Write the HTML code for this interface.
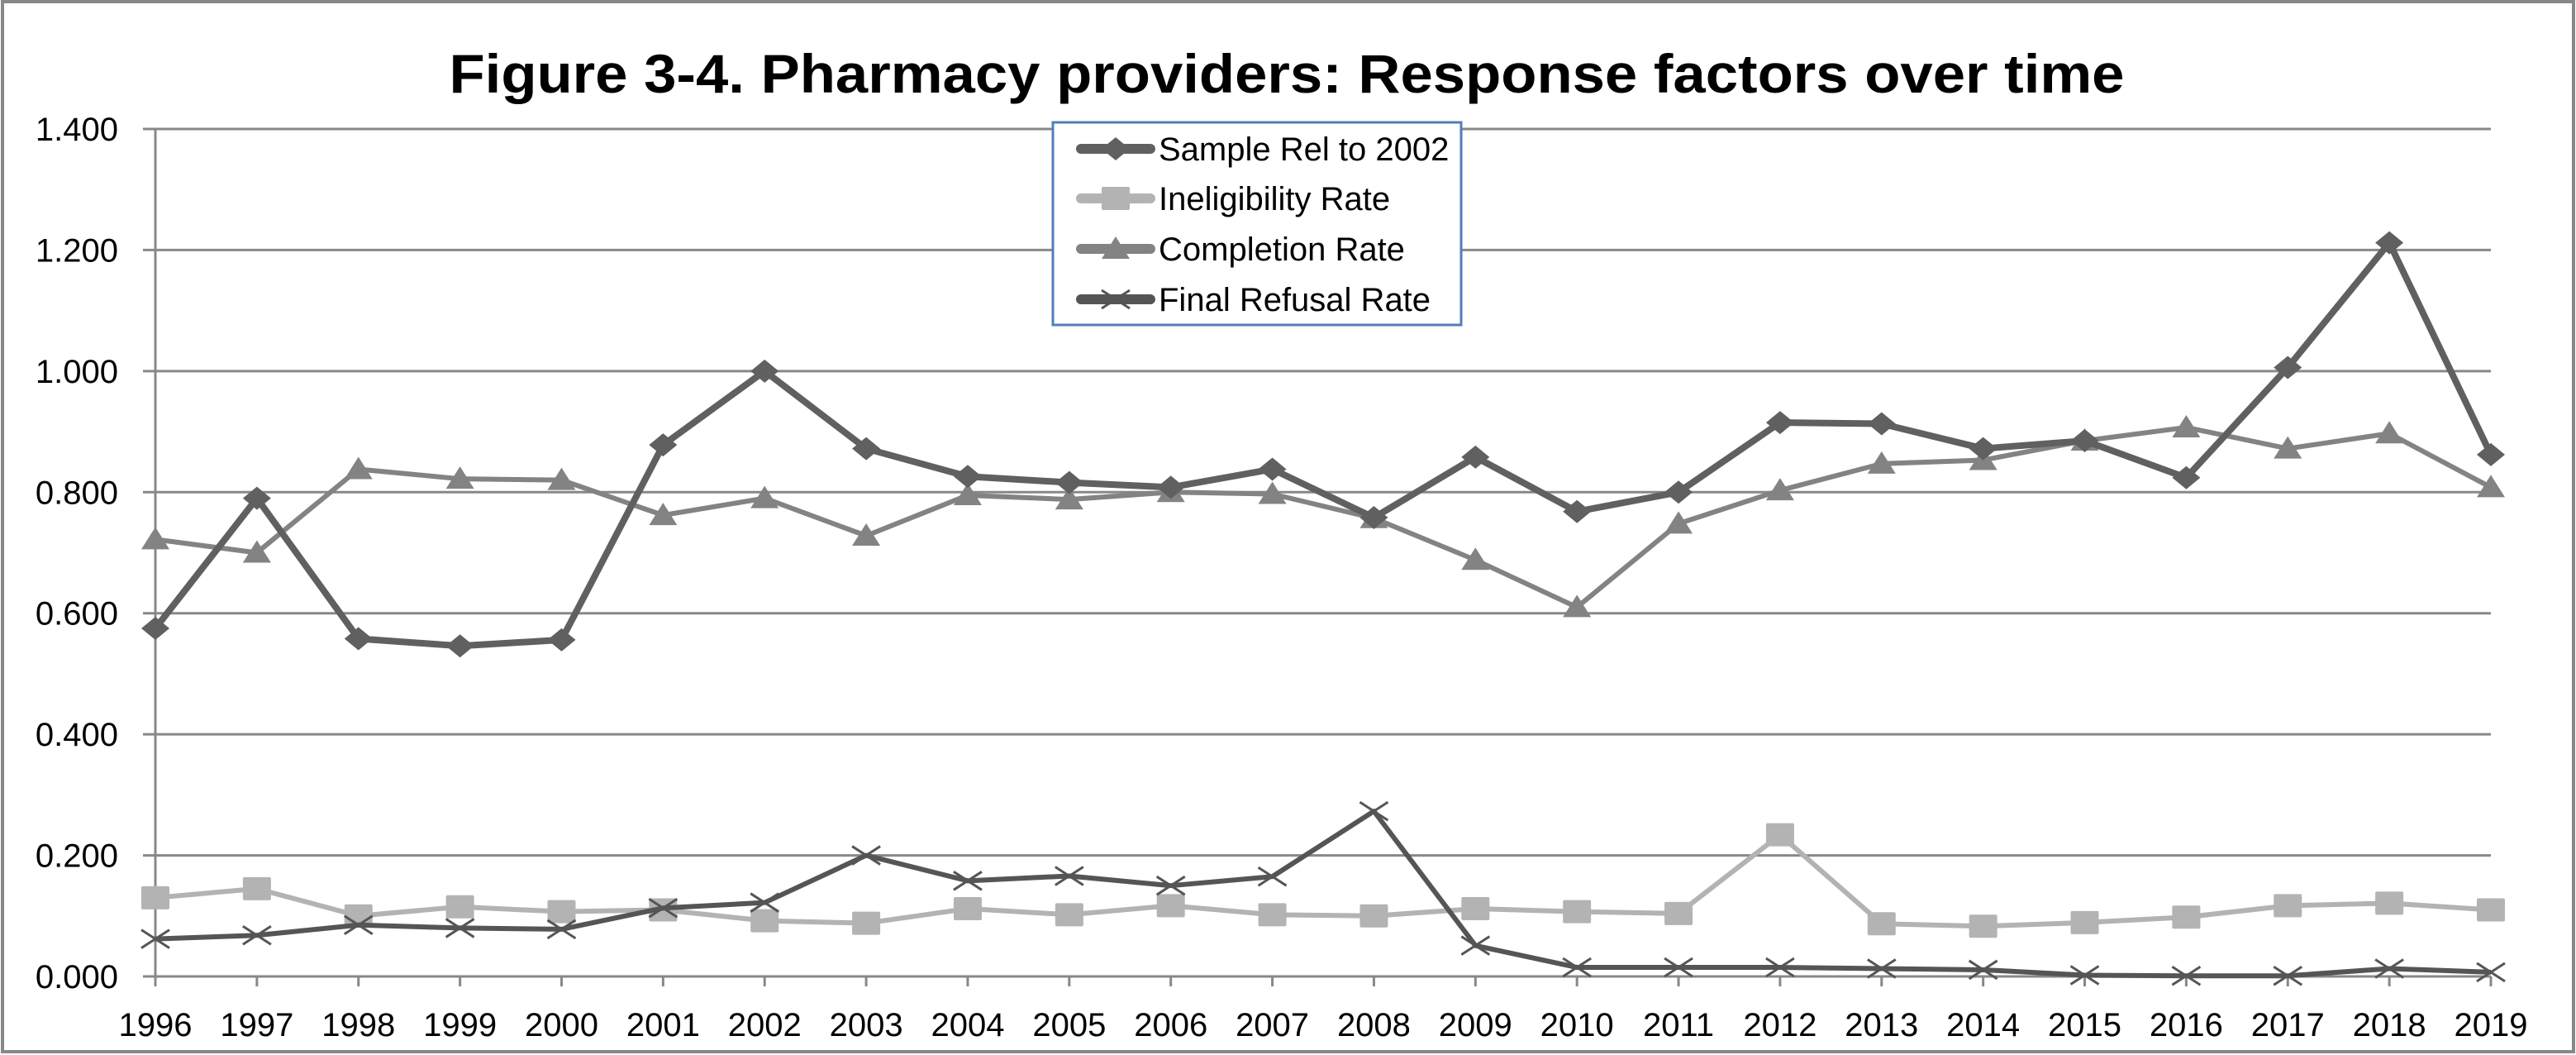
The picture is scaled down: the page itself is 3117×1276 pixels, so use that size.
<!DOCTYPE html>
<html><head><meta charset="utf-8"><style>
html,body{margin:0;padding:0;background:#fff}
svg{display:block;font-family:"Liberation Sans",sans-serif}
</style></head><body>
<svg width="3117" height="1276" viewBox="0 0 3117 1276" xmlns="http://www.w3.org/2000/svg">
<rect x="3" y="2" width="3111" height="1270" fill="#fff" stroke="#888" stroke-width="4"/>
<text x="1557" y="112" text-anchor="middle" font-size="66" font-weight="bold" textLength="2027" lengthAdjust="spacingAndGlyphs" fill="#000" font-family="Liberation Sans, sans-serif">Figure 3-4. Pharmacy providers: Response factors over time</text>
<g id="grid"></g>
<g id="series"></g>
<g id="legend"></g>
</svg>
<script>
const years = ["1996","1997","1998","1999","2000","2001","2002","2003","2004","2005","2006","2007","2008","2009","2010","2011","2012","2013","2014","2015","2016","2017","2018","2019"];
const sampleRel = [0.575,0.790,0.558,0.546,0.556,0.878,1.000,0.872,0.826,0.816,0.808,0.838,0.758,0.858,0.768,0.800,0.915,0.913,0.872,0.885,0.824,1.006,1.212,0.862];
const ineligibility = [0.130,0.145,0.100,0.115,0.107,0.110,0.092,0.088,0.112,0.102,0.117,0.102,0.100,0.112,0.107,0.104,0.234,0.087,0.083,0.089,0.098,0.117,0.121,0.110];
const completion = [0.722,0.700,0.838,0.822,0.820,0.762,0.790,0.728,0.795,0.788,0.800,0.797,0.757,0.688,0.610,0.748,0.803,0.847,0.853,0.885,0.907,0.872,0.897,0.808];
const refusal = [0.062,0.068,0.085,0.080,0.078,0.113,0.122,0.200,0.158,0.166,0.150,0.165,0.273,0.051,0.015,0.015,0.015,0.013,0.011,0.002,0.001,0.001,0.013,0.007];
const yTicks = [0,0.2,0.4,0.6,0.8,1.0,1.2,1.4];
const yTickLabels = ["0.000","0.200","0.400","0.600","0.800","1.000","1.200","1.400"];

const NS="http://www.w3.org/2000/svg";
const X0=188,X1=3014,Y0=1181,Y1=156,YMAX=1.4;
const xs=i=>X0+(X1-X0)*i/(years.length-1);
const ys=v=>Y0-(Y0-Y1)*v/YMAX;
function mk(tag,attrs,parent){const e=document.createElementNS(NS,tag);for(const k in attrs)e.setAttribute(k,attrs[k]);parent.appendChild(e);return e;}
const grid=document.getElementById('grid'),ser=document.getElementById('series'),leg=document.getElementById('legend');

yTicks.forEach((t,i)=>{
  const l=mk('line',{x1:173,x2:X1,y1:ys(t),y2:ys(t),stroke:'#888','stroke-width':3},grid);
  
  
  const tx=mk('text',{x:143,y:ys(t)+14,'text-anchor':'end','font-size':40,fill:'#000'},grid);
  tx.textContent=yTickLabels[i];
  
  
});
const ax=mk('line',{x1:X0,x2:X0,y1:Y1,y2:Y0+12,stroke:'#888','stroke-width':3},grid);


years.forEach((y,i)=>{
  const tk=mk('line',{x1:xs(i),x2:xs(i),y1:Y0,y2:Y0+12,stroke:'#888','stroke-width':3},grid);
  
  
  const tx=mk('text',{x:xs(i),y:Y0+72,'text-anchor':'middle','font-size':40,fill:'#000'},grid);
  tx.textContent=y;
  
  
});

function marker(type,cx,cy,color,g){
  let e;
  if(type==='diamond') e=mk('polygon',{points:`${cx-17},${cy} ${cx},${cy-14} ${cx+17},${cy} ${cx},${cy+14}`,fill:color},g);
  else if(type==='square') e=mk('rect',{x:cx-17,y:cy-14,width:34,height:28,rx:2,fill:color},g);
  else if(type==='triangle') e=mk('polygon',{points:`${cx-17},${cy+12} ${cx},${cy-15} ${cx+17},${cy+12}`,fill:color},g);
  else e=mk('path',{d:`M${cx-17},${cy-11}L${cx+17},${cy+11}M${cx-17},${cy+11}L${cx+17},${cy-11}`,stroke:color,'stroke-width':3,fill:'none'},g);
  return e;
}
const seriesDefs=[
  {name:'Sample Rel to 2002',data:sampleRel,color:'#606060',w:8,m:'diamond',key:'sample-rel'},
  {name:'Ineligibility Rate',data:ineligibility,color:'#b3b3b3',w:6,m:'square',key:'ineligibility'},
  {name:'Completion Rate',data:completion,color:'#838383',w:6,m:'triangle',key:'completion'},
  {name:'Final Refusal Rate',data:refusal,color:'#555555',w:6,m:'x',key:'final-refusal'}
];
const order=[2,1,3,0];
order.forEach(si=>{
  const s=seriesDefs[si];
  const g=mk('g',{},ser);
  
  
  const pl=mk('polyline',{points:s.data.map((v,i)=>xs(i)+','+ys(v)).join(' '),fill:'none',stroke:s.color,'stroke-width':s.w,'stroke-linejoin':'round'},g);
  
  
  s.data.forEach((v,i)=>{
    const mm=marker(s.m,xs(i),ys(v),s.color,g);
    
    
  });
});

const box=mk('rect',{x:1274,y:148,width:494,height:245,fill:'#fff',stroke:'#4f7fb8','stroke-width':3},leg);


const rowsY=[180,240,301,362];
seriesDefs.forEach((s,i)=>{
  const g=mk('g',{},leg);
  
  
  mk('line',{x1:1308,x2:1392,y1:rowsY[i],y2:rowsY[i],stroke:s.color,'stroke-width':12,'stroke-linecap':'round'},g);
  marker(s.m,1350,rowsY[i],s.color,g);
  const t=mk('text',{x:1402,y:rowsY[i]+14,'font-size':40,fill:'#000'},g);
  t.textContent=s.name;
});
</script>
</body></html>
